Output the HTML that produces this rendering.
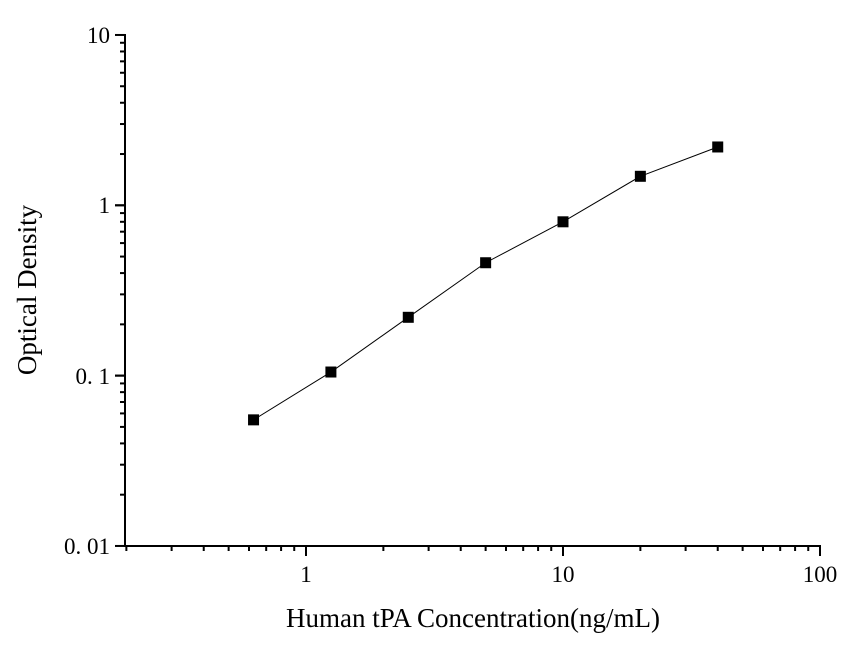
<!DOCTYPE html>
<html><head><style>body{margin:0;background:#fff}</style></head><body>
<svg width="848" height="652" xmlns="http://www.w3.org/2000/svg" font-family="Liberation Serif, serif">
<rect width="848" height="652" fill="#fff"/>
<g stroke="#000" stroke-width="2" fill="none" id="ax"></g>
<script>
const ns="http://www.w3.org/2000/svg",g=document.getElementById('ax'),svg=g.ownerSVGElement;
function X(v){return 306+257*Math.log10(v)}function Y(v){return 205.3-170.33*Math.log10(v)}
function L(x1,y1,x2,y2,w){const l=document.createElementNS(ns,'line');l.setAttribute('x1',x1);l.setAttribute('y1',y1);l.setAttribute('x2',x2);l.setAttribute('y2',y2);if(w)l.setAttribute('stroke-width',w);g.appendChild(l);}
function T(x,y,s,a,sz){const t=document.createElementNS(ns,'text');t.setAttribute('x',x);t.setAttribute('y',y);t.setAttribute('text-anchor',a);t.setAttribute('style','font-size:'+(sz||24)+'px');t.textContent=s;svg.appendChild(t);}
L(125,34,125,547);L(124,546,821,546);
for(let d=0.01;d<10;d*=10)for(let k=1;k<=10;k++){const y=Y(d*k);L(k==1||k==10?115:120,y,125,y);}
for(let d=0.1;d<100;d*=10)for(let k=1;k<=10;k++){const v=d*k;if(v<0.2)continue;const x=X(v);L(x,546,x,k==1||k==10?556:551);}
[['10',35],['1',205],['0. 1',376],['0. 01',546]].forEach(a=>T(110,a[1]+8,a[0],'end',23));
[['1',306],['10',563],['100',820]].forEach(a=>T(a[1],582,a[0],'middle',23));
const pts=[[0.625,0.055],[1.25,0.105],[2.5,0.22],[5,0.46],[10,0.8],[20,1.48],[40,2.2]];
const pl=document.createElementNS(ns,'polyline');pl.setAttribute('points',pts.map(p=>X(p[0])+','+Y(p[1])).join(' '));pl.setAttribute('stroke-width','1');g.appendChild(pl);
pts.forEach(p=>{const r=document.createElementNS(ns,'rect');r.setAttribute('x',X(p[0])-5.5);r.setAttribute('y',Y(p[1])-5.5);r.setAttribute('width',11);r.setAttribute('height',11);r.setAttribute('fill','#000');svg.appendChild(r);});
T(473,627,'Human tPA Concentration(ng/mL)','middle',27);
const t=document.createElementNS(ns,'text');t.setAttribute('transform','translate(36,290) rotate(-90)');t.setAttribute('text-anchor','middle');t.setAttribute('style','font-size:27px');t.textContent='Optical Density';svg.appendChild(t);
</script>
</svg>
</body></html>
